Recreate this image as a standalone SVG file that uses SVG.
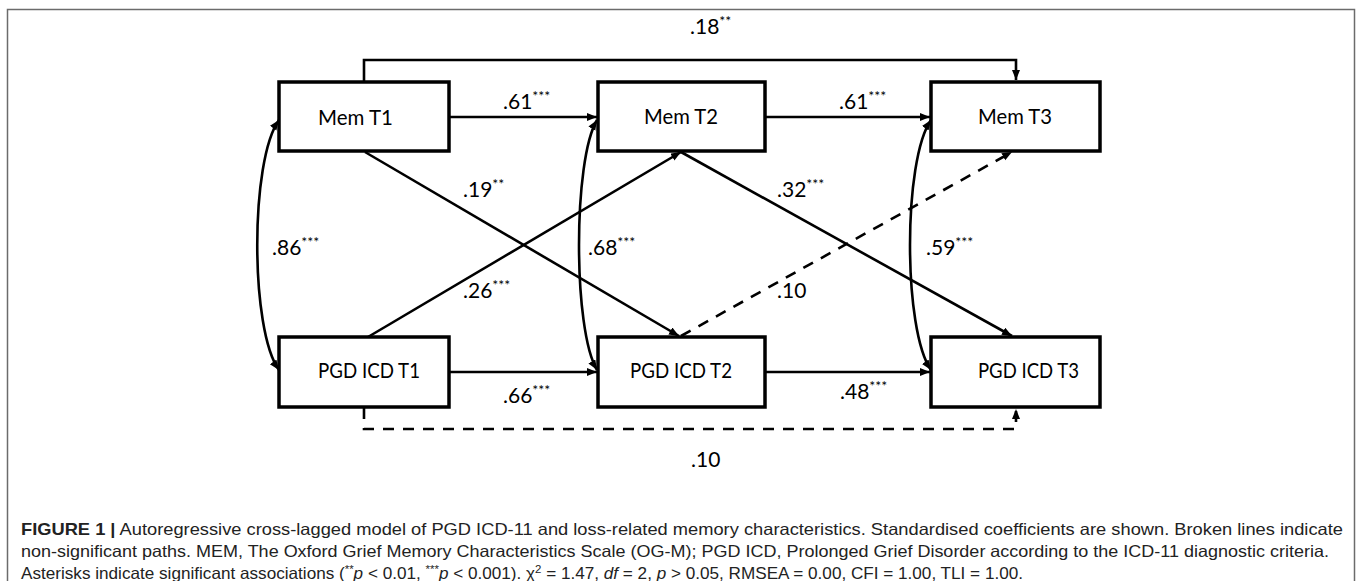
<svg xmlns="http://www.w3.org/2000/svg" width="1358" height="581" viewBox="0 0 1358 581">
<style>
.box{fill:#fff;stroke:#000;stroke-width:3.5}
.node{font-family:Lato,"Liberation Sans",sans-serif;font-size:21px;fill:#000}
.lbl{font-family:Lato,"Liberation Sans",sans-serif;font-size:21px;fill:#000}
.sup{font-size:14px}
.c{fill:none;stroke:#000;stroke-width:2.6}
.d{stroke-dasharray:11 9}
.cap{font-family:"Liberation Sans",Arial,sans-serif;font-size:16.5px;fill:#222}
</style>
<defs>
<marker id="ah" markerUnits="userSpaceOnUse" markerWidth="12" markerHeight="10" refX="10" refY="4" orient="auto-start-reverse">
<path d="M0,0 L10,4 L0,8 z" fill="#000"/>
</marker>
</defs>
<rect x="7.5" y="9.5" width="1347" height="600" fill="none" stroke="#6b6b6b" stroke-width="1.5"/>
<g id="connectors">
<path class="c" d="M364,81 V60 H1016 V80" marker-end="url(#ah)"/>
<path class="c" d="M449,117 H597" marker-end="url(#ah)"/>
<path class="c" d="M765,117 H930" marker-end="url(#ah)"/>
<path class="c" d="M449,372 H597" marker-end="url(#ah)"/>
<path class="c" d="M765,372 H930" marker-end="url(#ah)"/>
<path class="c" d="M365,152 L679,336" marker-end="url(#ah)"/>
<path class="c" d="M368,337 L681,152" marker-end="url(#ah)"/>
<path class="c" d="M681,152 L1012,336" marker-end="url(#ah)"/>
<path class="c d" d="M681,336 L1012,152" marker-end="url(#ah)"/>
<path class="c d" d="M364,408 V429 H1016 V409" marker-end="url(#ah)"/>
<path class="c" d="M279,120 C250,160 250,330 279,370" marker-start="url(#ah)" marker-end="url(#ah)"/>
<path class="c" d="M597,120 C573,160 573,330 597,370" marker-start="url(#ah)" marker-end="url(#ah)"/>
<path class="c" d="M931,120 C903,160 903,330 931,370" marker-start="url(#ah)" marker-end="url(#ah)"/>
</g>
<g id="memT1"><rect class="box" x="279" y="82" width="170" height="69"/><text class="node" x="318" y="125" textLength="75" lengthAdjust="spacingAndGlyphs">Mem T1</text></g>
<g id="memT2"><rect class="box" x="598" y="82" width="167" height="69"/><text class="node" x="644" y="124" textLength="74" lengthAdjust="spacingAndGlyphs">Mem T2</text></g>
<g id="memT3"><rect class="box" x="931" y="82" width="169" height="69"/><text class="node" x="978" y="124" textLength="74" lengthAdjust="spacingAndGlyphs">Mem T3</text></g>
<g id="pgdT1"><rect class="box" x="279" y="337" width="170" height="70"/><text class="node" x="318" y="378" textLength="102" lengthAdjust="spacingAndGlyphs">PGD ICD T1</text></g>
<g id="pgdT2"><rect class="box" x="598" y="337" width="167" height="70"/><text class="node" x="630" y="378" textLength="102" lengthAdjust="spacingAndGlyphs">PGD ICD T2</text></g>
<g id="pgdT3"><rect class="box" x="931" y="337" width="169" height="70"/><text class="node" x="978" y="378" textLength="101" lengthAdjust="spacingAndGlyphs">PGD ICD T3</text></g>
<g id="labels">
<text class="lbl" x="690" y="34">.18<tspan class="sup" dy="-8">**</tspan></text>
<text class="lbl" x="503" y="109">.61<tspan class="sup" dy="-8">***</tspan></text>
<text class="lbl" x="839" y="109">.61<tspan class="sup" dy="-8">***</tspan></text>
<text class="lbl" x="463" y="197">.19<tspan class="sup" dy="-8">**</tspan></text>
<text class="lbl" x="463" y="298">.26<tspan class="sup" dy="-8">***</tspan></text>
<text class="lbl" x="272" y="255">.86<tspan class="sup" dy="-8">***</tspan></text>
<text class="lbl" x="588" y="255">.68<tspan class="sup" dy="-8">***</tspan></text>
<text class="lbl" x="777" y="197">.32<tspan class="sup" dy="-8">***</tspan></text>
<text class="lbl" x="777" y="298">.10</text>
<text class="lbl" x="926" y="255">.59<tspan class="sup" dy="-8">***</tspan></text>
<text class="lbl" x="503" y="403">.66<tspan class="sup" dy="-8">***</tspan></text>
<text class="lbl" x="840" y="399">.48<tspan class="sup" dy="-8">***</tspan></text>
<text class="lbl" x="691" y="467">.10</text>
</g>
<g id="caption">
<text class="cap" x="21" y="535" textLength="1322" lengthAdjust="spacingAndGlyphs"><tspan font-weight="bold">FIGURE 1 |</tspan> Autoregressive cross-lagged model of PGD ICD-11 and loss-related memory characteristics. Standardised coefficients are shown. Broken lines indicate</text>
<text class="cap" x="21" y="557" textLength="1308" lengthAdjust="spacingAndGlyphs">non-significant paths. MEM, The Oxford Grief Memory Characteristics Scale (OG-M); PGD ICD, Prolonged Grief Disorder according to the ICD-11 diagnostic criteria.</text>
<text class="cap" x="21" y="579" textLength="1002" lengthAdjust="spacingAndGlyphs">Asterisks indicate significant associations (<tspan font-size="11" dy="-6">**</tspan><tspan font-style="italic" dy="6">p</tspan> &lt; 0.01, <tspan font-size="11" dy="-6">***</tspan><tspan font-style="italic" dy="6">p</tspan> &lt; 0.001). χ<tspan font-size="11" dy="-6">2</tspan><tspan dy="6"> = 1.47, </tspan><tspan font-style="italic">df</tspan> = 2, <tspan font-style="italic">p</tspan> &gt; 0.05, RMSEA = 0.00, CFI = 1.00, TLI = 1.00.</text>
</g>
</svg>
